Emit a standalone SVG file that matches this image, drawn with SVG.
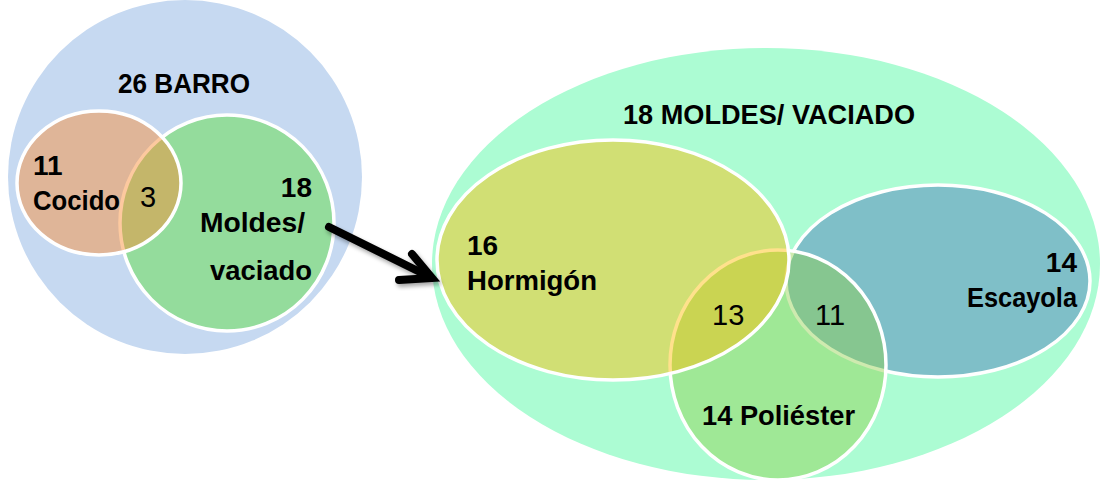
<svg xmlns="http://www.w3.org/2000/svg" width="1106" height="484" viewBox="0 0 1106 484">
  <style>
    .lbl { font-family: "Liberation Sans", Arial, sans-serif; font-weight: bold; fill: #000; font-size: 28px; }
    .num { font-family: "Liberation Sans", Arial, sans-serif; font-weight: normal; fill: #000; font-size: 29px; }
    .inner { stroke: #ffffff; stroke-width: 3.5; }
  </style>
  <defs>
    <filter id="shadow" x="-20%" y="-20%" width="140%" height="140%">
      <feDropShadow dx="2" dy="3" stdDeviation="2" flood-color="#000" flood-opacity="0.35"/>
    </filter>
  </defs>
  <rect width="1106" height="484" fill="#ffffff"/>

  <g id="barro">
    <circle cx="185" cy="177" r="177" fill="#c6d9f1"/>
    <text class="lbl" x="118" y="93" textLength="132" lengthAdjust="spacingAndGlyphs">26 BARRO</text>
  </g>
  <g id="moldes-left">
    <ellipse cx="227" cy="223" rx="107" ry="108" fill="#94dc9c" class="inner"/>
  </g>
  <g id="cocido">
    <ellipse cx="99" cy="183" rx="82" ry="72" fill="#fb8c32" fill-opacity="0.47" class="inner"/>
  </g>
  <g id="labels-left">
    <text class="lbl" x="33" y="175">11</text>
    <text class="lbl" x="33" y="210" textLength="87" lengthAdjust="spacingAndGlyphs">Cocido</text>
    <text class="num" x="140" y="207">3</text>
    <text class="lbl" x="312" y="197" text-anchor="end">18</text>
    <text class="lbl" x="305" y="232" text-anchor="end" textLength="105" lengthAdjust="spacingAndGlyphs">Moldes/</text>
    <text class="lbl" x="312" y="280" text-anchor="end" textLength="102" lengthAdjust="spacingAndGlyphs">vaciado</text>
  </g>

  <g id="moldes-vaciado">
    <ellipse cx="766" cy="264" rx="334" ry="216" fill="#acfcd3"/>
    <text class="lbl" x="623" y="124" textLength="292" lengthAdjust="spacingAndGlyphs">18 MOLDES/ VACIADO</text>
  </g>
  <g id="escayola">
    <ellipse cx="938" cy="281" rx="152" ry="96" fill="#7fbfc8" class="inner"/>
  </g>
  <g id="poliester">
    <ellipse cx="778" cy="365" rx="108" ry="115" fill="#8fcf48" fill-opacity="0.44" class="inner"/>
  </g>
  <g id="hormigon">
    <ellipse cx="613" cy="260" rx="176" ry="120" fill="#ffbc00" fill-opacity="0.45" class="inner"/>
  </g>
  <g id="labels-right">
    <text class="lbl" x="467" y="255">16</text>
    <text class="lbl" x="467" y="290" textLength="130" lengthAdjust="spacingAndGlyphs">Hormigón</text>
    <text class="num" x="712" y="325">13</text>
    <text class="num" x="815" y="325">11</text>
    <text class="lbl" x="1077" y="272" text-anchor="end">14</text>
    <text class="lbl" x="1077" y="307" text-anchor="end" textLength="110" lengthAdjust="spacingAndGlyphs">Escayola</text>
    <text class="lbl" x="702" y="425" textLength="153" lengthAdjust="spacingAndGlyphs">14 Poliéster</text>
  </g>

  <g id="connectors">
    <g filter="url(#shadow)" fill="none" stroke="#000" stroke-width="8" stroke-linecap="round" stroke-linejoin="miter">
      <line x1="329" y1="227" x2="430" y2="277"/>
      <path d="M 412 254 L 432 278 L 399 280"/>
    </g>
  </g>
</svg>
